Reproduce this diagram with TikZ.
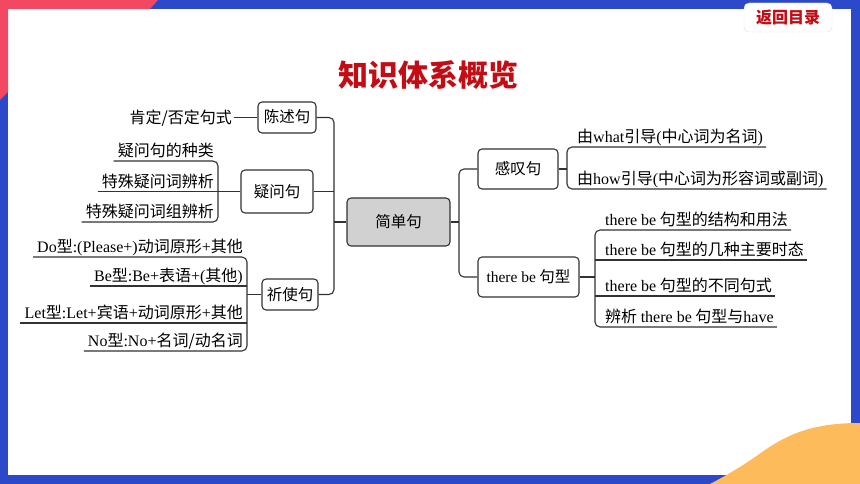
\documentclass[tikz,border=0pt]{standalone}
\usepackage{fontspec}
\setmainfont{Noto Sans CJK SC}
\newfontfamily\enfont{Liberation Serif}
\newcommand{\en}[1]{{\enfont #1}}
\usetikzlibrary{positioning}
\definecolor{frameblue}{RGB}{43,73,201}
\definecolor{framered}{RGB}{242,72,98}
\definecolor{frameorange}{RGB}{253,187,92}
\definecolor{titlered}{RGB}{196,12,20}
\definecolor{lineg}{RGB}{50,50,50}
\tikzset{
	box/.style={draw=lineg, line width=1.1pt, rounded corners=4pt, fill=white, inner sep=0pt, text height=13pt, text depth=2pt, font=\fontsize{15.5}{18}\selectfont},
	leafL/.style={anchor=south east, inner xsep=4pt, inner ysep=2pt, text height=13.5pt, text depth=2pt, font=\fontsize{16}{19}\selectfont},
	leafR/.style={leafL, anchor=south west, inner xsep=3pt},
	conn/.style={draw=lineg, line width=1.1pt}
}

\begin{document}
\begin{tikzpicture}[x=1pt, y=-1pt]
	\useasboundingbox (0,0) rectangle (860,484);
	% frame
	\fill[frameblue] (0,0) rectangle (860,484);
	\fill[white] (8,9) rectangle (851,475);
	\fill[framered] (0,0) -- (158,0) -- (150,9) -- (8,9) -- (8,92) -- (0,100) -- cycle;
	\fill[frameorange] (860,423) .. controls (815,423) and (790,433) .. (765,450) .. controls (740,468) and (725,476) .. (710,484) -- (860,484) -- cycle;
	\node (back) [draw=black!12, fill=white, rounded corners=5pt, minimum width=88pt, minimum height=29pt, text=titlered, font=\fontsize{16}{18}\selectfont\bfseries] at (788,17.5) {返回目录};
	\node (title) [text=titlered, font=\fontsize{30}{34}\selectfont\bfseries] at (428,75) {知识体系概览};

	% boxes
	\node (C) [box, fill=black!18, minimum width=103pt, minimum height=48pt] at (398.5,222) {简单句};
	\node (S1) [box, minimum width=58pt, minimum height=31pt] at (287,117.5) {陈述句};
	\node (S2) [box, minimum width=72pt, minimum height=43pt] at (277,191.5) {疑问句};
	\node (S3) [box, minimum width=56pt, minimum height=31pt] at (290,294.5) {祈使句};
	\node (E) [box, minimum width=80pt, minimum height=40pt] at (518,169) {感叹句};
	\node (TB) [box, minimum width=101pt, minimum height=40pt] at (528.5,277) {\en{there be} 句型};

	% leaves
	\node (P) [leafL, anchor=east, inner xsep=2pt] at (234,117.5) {肯定/否定句式};
	\node (Q1) [leafL] at (218,161) {疑问句的种类};
	\node (Q2) [leafL] at (218,191.5) {特殊疑问词辨析};
	\node (Q3) [leafL] at (218,222) {特殊疑问词组辨析};
	\node (D1) [leafL] at (247,257) {\en{Do}型\en{:(Please+)}动词原形\en{+}其他};
	\node (D2) [leafL] at (247,286) {\en{Be}型\en{:Be+}表语\en{+(}其他\en{)}};
	\node (D3) [leafL] at (247,323) {\en{Let}型\en{:Let+}宾语\en{+}动词原形\en{+}其他};
	\node (D4) [leafL] at (247,351) {\en{No}型\en{:No+}名词/动名词};
	\node (E1) [leafR] at (574,147) {由\en{what}引导\en{(}中心词为名词\en{)}};
	\node (E2) [leafR] at (574,189) {由\en{how}引导\en{(}中心词为形容词或副词\en{)}};
	\node (T1) [leafR] at (602,230) {\en{there be} 句型的结构和用法};
	\node (T2) [leafR] at (602,260) {\en{there be} 句型的几种主要时态};
	\node (T3) [leafR] at (602,296) {\en{there be} 句型的不同句式};
	\node (T4) [leafR] at (602,327) {辨析 \en{there be} 句型与\en{have}};

	\coordinate (lX) at (334,205);
	\coordinate (rX) at (459,222);
	\coordinate (qX) at (218,190);
	\coordinate (dX) at (247,300);
	\coordinate (eX) at (567,168);
	\coordinate (tX) at (595,280);

	% connectors
	\path [conn, rounded corners=5pt] (S1.east) -| (lX) |- (S3.east);
	\path [conn] (S2.east) -- (S2.east -| lX);
	\path [conn] (C.west) -- (C.west -| lX);
	\path [conn, rounded corners=5pt] (E.west) -| (rX) |- (TB.west);
	\path [conn] (C.east) -- (C.east -| rX);
	\path [conn] (P.east) -- (S1.west);
	\path [conn, rounded corners=5pt] (Q1.south west) -| (qX) |- (Q3.south west);
	\path [conn] (Q2.south west) -- (Q2.south west -| S2.west);
	\path [conn, rounded corners=5pt] (D1.south west) -| (dX) |- (D4.south west);
	\path [conn] (D2.south west) -- (D2.south east);
	\path [conn] (D3.south west) -- (D3.south east);
	\path [conn] (S3.west) -- (S3.west -| dX);
	\path [conn, rounded corners=5pt] (E1.south east) -| (eX) |- (E2.south east);
	\path [conn] (E.east) -- (E.east -| eX);
	\path [conn, rounded corners=5pt] (T1.south east) -| (tX) |- (T4.south east);
	\path [conn] (T2.south east) -- (T2.south east -| tX);
	\path [conn] (T3.south east) -- (T3.south east -| tX);
	\path [conn] (TB.east) -- (TB.east -| tX);
\end{tikzpicture}
\end{document}
